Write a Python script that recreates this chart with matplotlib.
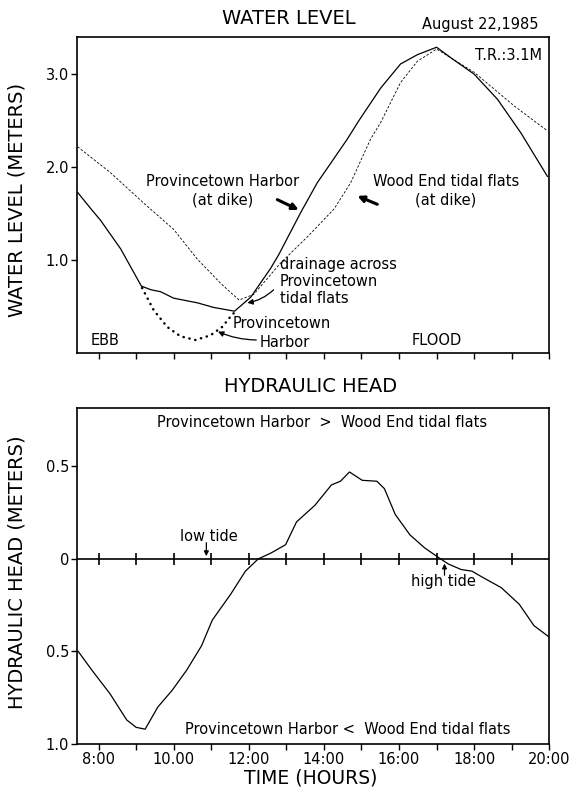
import matplotlib
matplotlib.use("Agg")
import matplotlib.pyplot as plt

plt.rcParams['font.family'] = ['DejaVu Sans']

# ---------------- data ----------------
# Water level (m) — Provincetown Harbor at dike (solid)
harbor_dike_t = [7.44, 7.8, 8.05, 8.59, 9.14, 9.4, 9.65, 10.0, 10.63, 11.07, 11.62, 12.05, 12.58,
                 12.80, 13.38, 13.82, 14.62, 14.93, 15.51, 16.04, 16.49, 17.0, 17.4, 18.0,
                 18.62, 19.24, 19.95]
harbor_dike_v = [1.73, 1.55, 1.43, 1.12, 0.72, 0.68, 0.66, 0.59, 0.54, 0.49, 0.45, 0.60, 0.91,
                 1.06, 1.51, 1.83, 2.30, 2.50, 2.85, 3.11, 3.21, 3.29, 3.17, 3.00,
                 2.73, 2.37, 1.90]
# Wood End tidal flats at dike (dashed)
woodend_t = [7.44, 8.32, 9.21, 10.0, 10.63, 11.25, 11.74, 12.13, 12.85, 13.56, 14.27, 14.71,
             15.24, 15.51, 16.04, 16.49, 17.0, 18.0, 19.06, 19.95]
woodend_v = [2.22, 1.94, 1.61, 1.33, 1.01, 0.75, 0.57, 0.63, 0.97, 1.25, 1.55, 1.83,
             2.30, 2.48, 2.91, 3.14, 3.27, 3.02, 2.66, 2.39]
# Provincetown Harbor (dotted)
harbor_t = [9.16, 9.47, 9.83, 10.18, 10.58, 10.98, 11.29, 11.51, 11.65]
harbor_v = [0.70, 0.46, 0.28, 0.18, 0.14, 0.19, 0.28, 0.39, 0.45]

# Hydraulic head (m)
head_t = [7.46, 7.82, 8.31, 8.75, 9.0, 9.24, 9.58, 9.96, 10.35, 10.74, 11.03, 11.52, 11.91,
          12.25, 12.59, 12.98, 13.27, 13.76, 14.2, 14.44, 14.68, 14.83, 15.02, 15.41,
          15.61, 15.9, 16.29, 16.68, 17.07, 17.31, 17.65, 17.94, 18.23, 18.72, 19.2,
          19.59, 19.98]
head_v = [-0.50, -0.60, -0.73, -0.87, -0.91, -0.92, -0.80, -0.71, -0.60, -0.47, -0.33,
          -0.19, -0.066, 0.0, 0.032, 0.077, 0.20, 0.29, 0.40, 0.42, 0.47, 0.45, 0.425,
          0.42, 0.38, 0.24, 0.13, 0.06, 0.005, -0.027, -0.057, -0.066, -0.10, -0.155,
          -0.245, -0.36, -0.42]

hour_ticks = [8, 9, 10, 11, 12, 13, 14, 15, 16, 17, 18, 19, 20]
hour_labels = ["8:00", "", "10.00", "", "12:00", "", "14:00", "", "16:00", "", "18:00", "", "20:00"]
wl_ticks = [1.0, 2.0, 3.0]
wl_labels = ["1.0", "2.0", "3.0"]
hh_ticks = [0.5, 0.0, -0.5, -1.0]
hh_labels = ["0.5", "0", "0.5", "1.0"]

# ---------------- figure ----------------
fig = plt.figure(figsize=(5.74, 7.94), dpi=100)
L, W = 0.135, 0.822
ax1 = fig.add_axes([L, 0.5554, W, 0.398])
ax2 = fig.add_axes([L, 0.063, W, 0.4232])

XMIN, XMAX = 7.44, 20.0
fs_t = 10.5
fs_ann = 10.5

for ax in (ax1, ax2):
    ax.set_xlim(XMIN, XMAX)
    for s in ax.spines.values():
        s.set_linewidth(1.2)
    ax.tick_params(direction='out', length=4, width=1.0, labelsize=fs_t, pad=2)

# ---- top panel ----
ax1.plot(harbor_dike_t, harbor_dike_v, color='black', lw=0.9)
ax1.plot(woodend_t, woodend_v, color='black', lw=0.6, linestyle=(0, (3, 2)))
ax1.plot(harbor_t, harbor_v, color='black', lw=1.8, linestyle=(0, (0.1, 2.3)),
         dash_capstyle='round')
ax1.set_ylim(0.0, 3.4)
ax1.set_xticks(hour_ticks)
ax1.tick_params(axis='x', labelbottom=False)
ax1.set_yticks(wl_ticks)
ax1.set_yticklabels(wl_labels)

ax1.text(11.3, 1.75, "Provincetown Harbor\n(at dike)", ha='center', va='center',
         fontsize=fs_ann, linespacing=1.3)
ax1.text(17.25, 1.75, "Wood End tidal flats\n(at dike)", ha='center', va='center',
         fontsize=fs_ann, linespacing=1.3)
bold_arrow = dict(arrowstyle='-|>', lw=2.2, color='black', mutation_scale=9,
                  shrinkA=0, shrinkB=0)
ax1.annotate("", xy=(13.33, 1.54), xytext=(12.76, 1.65), arrowprops=bold_arrow)
ax1.annotate("", xy=(14.89, 1.69), xytext=(15.42, 1.60), arrowprops=bold_arrow)

ax1.text(12.83, 1.03, "drainage across\nProvincetown\ntidal flats", ha='left', va='top',
         fontsize=fs_ann, linespacing=1.15)
ax1.annotate("", xy=(11.96, 0.54), xytext=(12.66, 0.68),
             arrowprops=dict(arrowstyle='-|>', lw=0.9, color='black', mutation_scale=8,
                             shrinkA=0, shrinkB=0, connectionstyle='arc3,rad=-0.15'))
ax1.text(11.57, 0.32, "Provincetown", ha='left', va='center', fontsize=fs_ann)
ax1.text(12.28, 0.11, "Harbor", ha='left', va='center', fontsize=fs_ann)
ax1.annotate("", xy=(11.18, 0.23), xytext=(12.2, 0.14),
             arrowprops=dict(arrowstyle='-|>', lw=0.9, color='black', mutation_scale=8,
                             shrinkA=0, shrinkB=0, connectionstyle='arc3,rad=-0.1'))
ax1.text(7.78, 0.13, "EBB", ha='left', va='center', fontsize=fs_ann)
ax1.text(16.34, 0.14, "FLOOD", ha='left', va='center', fontsize=fs_ann)
ax1.text(19.8, 3.2, "T.R.:3.1M", ha='right', va='center', fontsize=fs_ann)

fig.text(289/574, 1 - 18/794, "WATER LEVEL", ha='center', va='center', fontsize=14)
fig.text(539/574, 1 - 24.5/794, "August 22,1985", ha='right', va='center', fontsize=fs_ann)
fig.text(0.03, 1 - 200/794, "WATER LEVEL (METERS)", rotation=90, ha='center', va='center',
         fontsize=14)

# ---- bottom panel ----
ax2.plot(head_t, head_v, color='black', lw=0.9)
ax2.axhline(0, color='black', lw=1.2)
ax2.plot(hour_ticks[:-1], [0] * (len(hour_ticks) - 1), linestyle='none', marker='|',
         markersize=8, markeredgewidth=1.2, color='black')
ax2.set_ylim(-1.0, 0.816)
ax2.set_xticks(hour_ticks)
ax2.set_xticklabels(hour_labels)
ax2.set_yticks(hh_ticks)
ax2.set_yticklabels(hh_labels)

ax2.text(13.95, 0.74, "Provincetown Harbor  >  Wood End tidal flats", ha='center',
         va='center', fontsize=fs_ann)
ax2.text(14.63, -0.92, "Provincetown Harbor <  Wood End tidal flats", ha='center',
         va='center', fontsize=fs_ann)
ax2.text(10.94, 0.12, "low tide", ha='center', va='center', fontsize=fs_ann)
ax2.annotate("", xy=(10.87, 0.015), xytext=(10.87, 0.088),
             arrowprops=dict(arrowstyle='-|>', lw=0.9, color='black', mutation_scale=7,
                             shrinkA=0, shrinkB=0))
ax2.text(17.19, -0.123, "high tide", ha='center', va='center', fontsize=fs_ann)
ax2.annotate("", xy=(17.21, -0.025), xytext=(17.21, -0.088),
             arrowprops=dict(arrowstyle='-|>', lw=0.9, color='black', mutation_scale=7,
                             shrinkA=0, shrinkB=0))

fig.text(311/574, 1 - 386/794, "HYDRAULIC HEAD", ha='center', va='center', fontsize=14)
fig.text(0.03, 1 - 572/794, "HYDRAULIC HEAD (METERS)", rotation=90, ha='center', va='center',
         fontsize=14)
fig.text(311/574, 1 - 778/794, "TIME (HOURS)", ha='center', va='center', fontsize=13.5)

fig.savefig("out.png", dpi=100)
